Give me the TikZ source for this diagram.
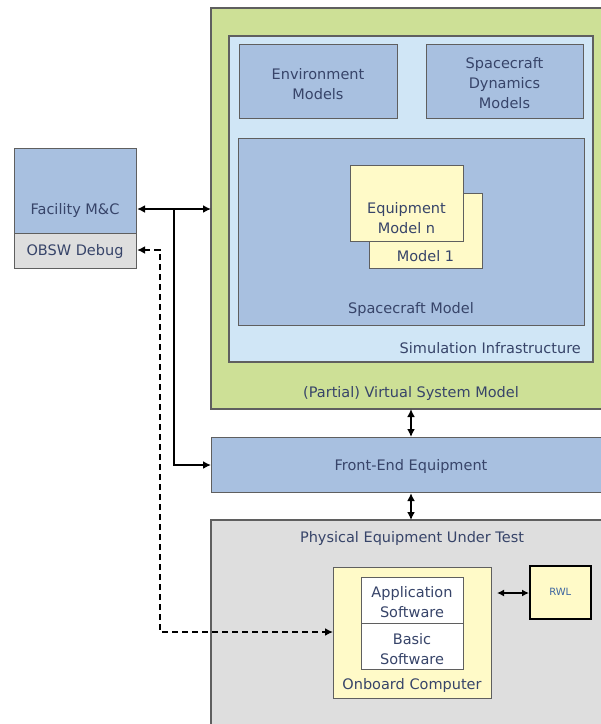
\documentclass[tikz,border=0pt]{standalone}
\usepackage{fontspec}
\setmainfont{DejaVu Sans}
\usetikzlibrary{arrows.meta}
\definecolor{vsmgreen}{RGB}{205,224,150}
\definecolor{siblue}{RGB}{208,230,246}
\definecolor{midblue}{RGB}{168,192,224}
\definecolor{eqyellow}{RGB}{255,250,200}
\definecolor{peutgray}{RGB}{222,222,222}
\definecolor{txt}{RGB}{55,68,105}
\definecolor{bord}{RGB}{95,95,95}
\begin{document}
\begin{tikzpicture}[x=1pt,y=-1pt,
  box/.style={draw=bord,line width=1.1pt},
  lbl/.style={text=txt,font=\fontsize{14.5}{20}\selectfont,align=center,inner sep=0pt},
  conn/.style={line width=2pt,-{Latex[length=8pt,width=8pt]}},
  bconn/.style={line width=2pt,{Latex[length=8pt,width=8pt]}-{Latex[length=8pt,width=8pt]}}]
\useasboundingbox (0,0) rectangle (601,724);
% Virtual system model
\path[box,fill=vsmgreen] (211,8) rectangle (605,409);
\path[box,fill=siblue] (229,36) rectangle (593,362);
\node[box,fill=midblue,minimum width=158pt,minimum height=74pt,anchor=north west] (env) at (239,44) {};
\node[lbl] (envlbl) at (318,84) {Environment\\Models};
\node[box,fill=midblue,minimum width=157pt,minimum height=74pt,anchor=north west] (scd) at (426,44) {};
\node[lbl] (scdlbl) at (504.5,83) {Spacecraft\\Dynamics\\Models};
\node[box,fill=midblue,minimum width=346pt,minimum height=187pt,anchor=north west] (scm) at (238,138) {};
\node[lbl,anchor=south] (scmlbl) at (411,317) {Spacecraft Model};
\node[box,fill=eqyellow,minimum width=113pt,minimum height=75pt,anchor=north west] (eq1) at (369,193) {};
\node[lbl,anchor=south] (eq1lbl) at (425.5,262) {Model 1};
\node[box,fill=eqyellow,minimum width=113pt,minimum height=76pt,anchor=north west] (eqn) at (350,165) {};
\node[lbl] (eqnlbl) at (406.5,218) {Equipment\\Model n};
\node[lbl,anchor=south east] (silbl) at (581,354) {Simulation Infrastructure};
\node[lbl,anchor=south] (vsmlbl) at (411,401) {(Partial) Virtual System Model};
\coordinate (vsmL) at (211,209);
\coordinate (vsmB) at (411,409);
% Front-end
\node[box,fill=midblue,minimum width=394pt,minimum height=55pt,anchor=north west] (fe) at (211,437) {};
\node[lbl] (felbl) at (411,466) {Front-End Equipment};
% Physical equipment under test
\path[box,fill=peutgray] (211,520) rectangle (605,728);
\coordinate (peutT) at (411,520);
\node[lbl] (peutlbl) at (412,538) {Physical Equipment Under Test};
\node[box,fill=eqyellow,minimum width=158pt,minimum height=131pt,anchor=north west] (obc) at (333,567) {};
\node[lbl,anchor=south] (obclbl) at (412,693) {Onboard Computer};
\node[box,fill=white,minimum width=102pt,minimum height=46pt,anchor=north west] (app) at (361,577) {};
\node[lbl] (applbl) at (412,602) {Application\\Software};
\node[box,fill=white,minimum width=102pt,minimum height=46pt,anchor=north west] (bsw) at (361,623) {};
\node[lbl] (bswlbl) at (412,649) {Basic\\Software};
\node[draw=black,line width=1.6pt,fill=eqyellow,minimum width=61pt,minimum height=53pt,anchor=north west,text={rgb,255:red,60;green,100;blue,160},font=\fontsize{10}{12}\selectfont] (rwl) at (529,565) {RWL};
% Facility
\node[box,fill=midblue,minimum width=122pt,minimum height=85pt,anchor=north west] (fmc) at (14,148) {};
\node[lbl] (fmclbl) at (75,210) {Facility M\&C};
\node[box,fill=peutgray,minimum width=122pt,minimum height=35pt,anchor=north west] (dbg) at (14,233) {};
\node[lbl] (dbglbl) at (75,251) {OBSW Debug};
% connectors
\coordinate (jn) at (174,209);
\draw[bconn] (fmc.east |- jn) -- (vsmL);
\draw[conn] (jn) -- (174,465) -- (fe.west |- 0,465);
\draw[line width=2pt,dash pattern=on 6pt off 4pt,{Latex[length=8pt,width=8pt]}-{Latex[length=8pt,width=8pt]}] (dbg.east |- 0,250) -- (160,250) -- (160,632) -- (obc.west |- 0,632);
\draw[bconn] (vsmB) -- (fe.north -| vsmB);
\draw[bconn] (fe.south -| peutT) -- (peutT);
\draw[line width=1.8pt,{Latex[length=7pt,width=7pt]}-{Latex[length=7pt,width=7pt]}] (497,593) -- (rwl.west |- 0,593);
\end{tikzpicture}
\end{document}
